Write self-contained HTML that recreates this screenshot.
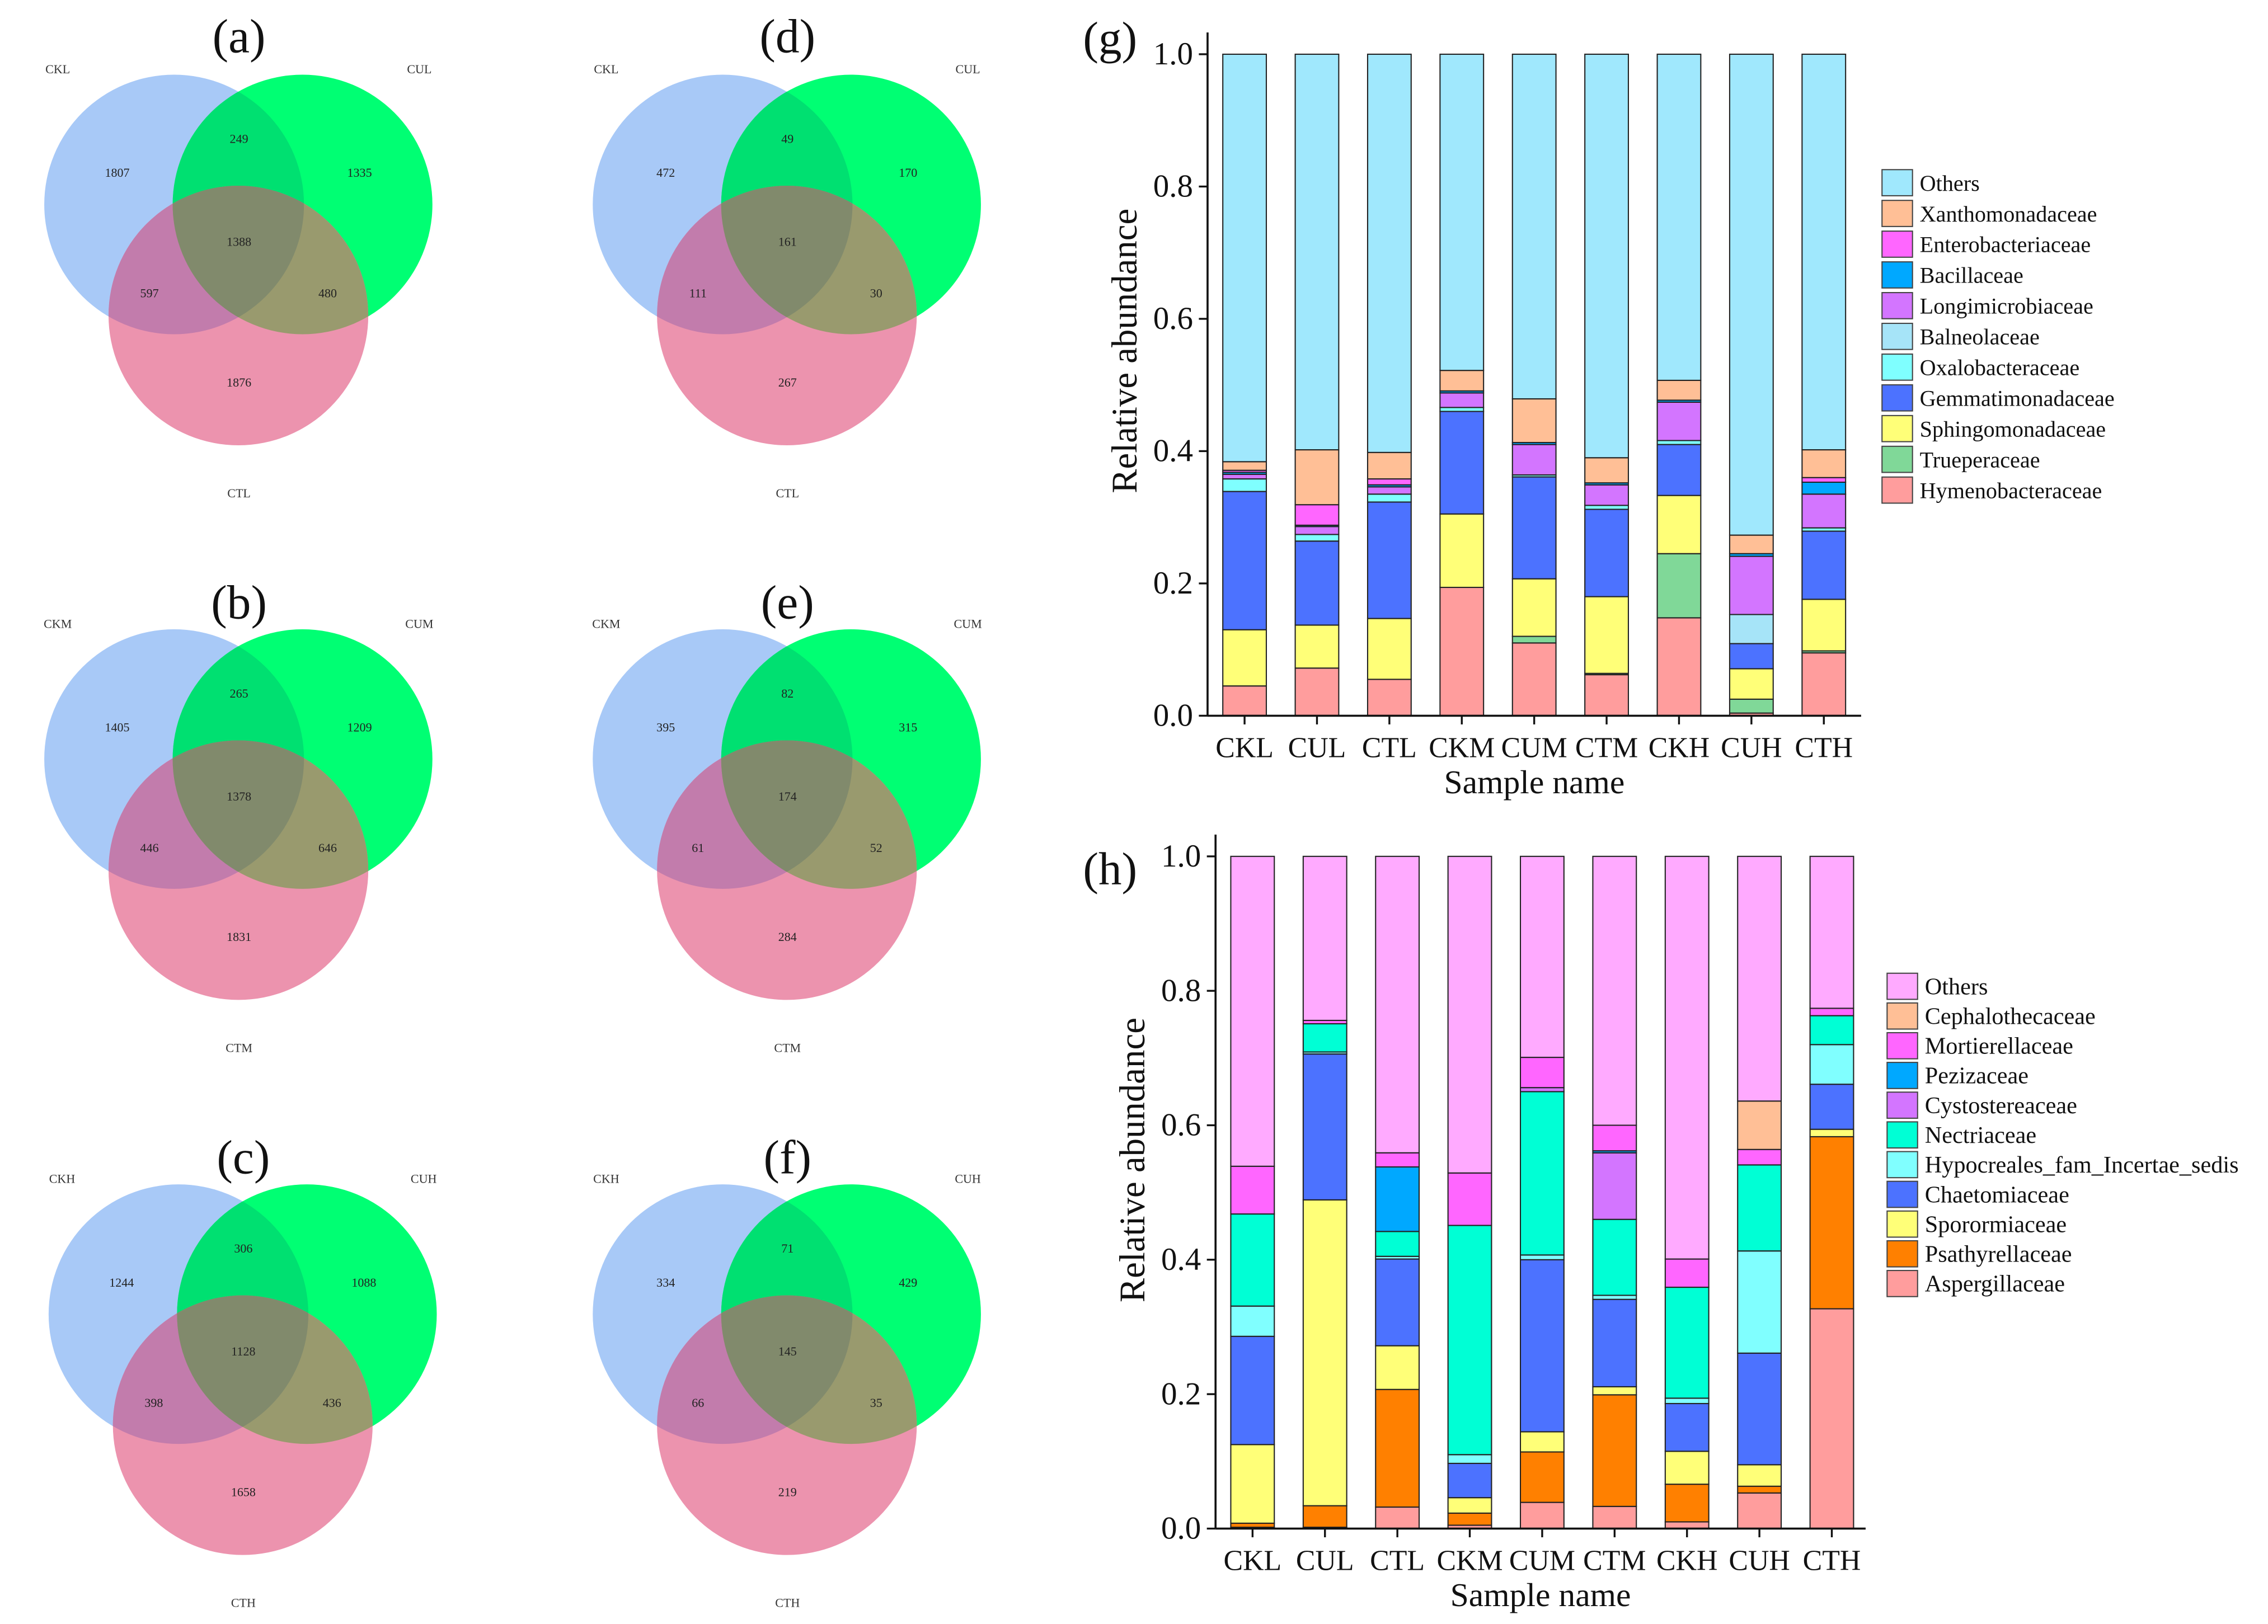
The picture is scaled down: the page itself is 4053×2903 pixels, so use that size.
<!DOCTYPE html>
<html><head><meta charset="utf-8"><style>
html,body{margin:0;padding:0;background:#fff;}
svg{display:block;font-family:"Liberation Serif",serif;}
</style></head><body>
<svg id="fig" width="4053" height="2903" viewBox="0 0 1563 1120" preserveAspectRatio="none" xmlns="http://www.w3.org/2000/svg">
<rect x="0" y="0" width="1563" height="1120" fill="#fff"/>
<defs id="defs"></defs>
<g id="venns"></g>
<g id="chartG"></g>
<g id="chartH"></g>
</svg>
<script>
// ---------- Venn data ----------
const vennTitles = ["(a)","(b)","(c)","(d)","(e)","(f)"];
const vennSets = [["CKL","CUL","CTL"],["CKM","CUM","CTM"],["CKH","CUH","CTH"],["CKL","CUL","CTL"],["CKM","CUM","CTM"],["CKH","CUH","CTH"]];
// order: onlyA, AB, onlyB, ABC, AC, BC, onlyC
const vennCounts = [
 [1807,249,1335,1388,597,480,1876],
 [1405,265,1209,1378,446,646,1831],
 [1244,306,1088,1128,398,436,1658],
 [472,49,170,161,111,30,267],
 [395,82,315,174,61,52,284],
 [334,71,429,145,66,35,219]
];
// ---------- Bar chart (g) data ----------
const samples = ["CKL","CUL","CTL","CKM","CUM","CTM","CKH","CUH","CTH"];
const yTicks = ["0.0","0.2","0.4","0.6","0.8","1.0"];
const gHymeno = [0.045,0.072,0.055,0.194,0.110,0.062,0.148,0.004,0.095];
const gTruep  = [0,0,0,0,0.010,0.002,0.097,0.021,0.003];
const gSphingo= [0.085,0.065,0.092,0.111,0.087,0.116,0.088,0.046,0.078];
const gGemmat = [0.209,0.127,0.176,0.155,0.154,0.132,0.077,0.038,0.103];
const gOxalo  = [0.019,0.010,0.012,0.006,0.003,0.006,0.006,0,0.005];
const gBalneo = [0,0,0,0,0,0,0,0.044,0];
const gLongi  = [0.007,0.012,0.011,0.022,0.046,0.031,0.058,0.088,0.051];
const gBacill = [0.003,0.002,0.003,0.003,0.003,0.003,0.003,0.004,0.018];
const gEntero = [0.003,0.031,0.009,0,0,0,0,0,0.007];
const gXantho = [0.013,0.083,0.040,0.031,0.066,0.038,0.030,0.028,0.042];
const gNames = ["Hymenobacteraceae","Trueperaceae","Sphingomonadaceae","Gemmatimonadaceae","Oxalobacteraceae","Balneolaceae","Longimicrobiaceae","Bacillaceae","Enterobacteriaceae","Xanthomonadaceae","Others"];
// ---------- Bar chart (h) data ----------
const hAsper  = [0.002,0.002,0.032,0.005,0.039,0.033,0.010,0.053,0.327];
const hPsathy = [0.006,0.032,0.175,0.018,0.075,0.166,0.056,0.010,0.256];
const hSporo  = [0.117,0.455,0.065,0.023,0.030,0.012,0.049,0.032,0.011];
const hChaeto = [0.161,0.217,0.129,0.051,0.256,0.130,0.071,0.166,0.067];
const hHypo   = [0.045,0.003,0.004,0.013,0.007,0.006,0.008,0.152,0.059];
const hNectri = [0.137,0.042,0.037,0.341,0.243,0.113,0.165,0.128,0.043];
const hCysto  = [0,0,0,0,0.006,0.099,0,0,0];
const hPezi   = [0,0,0.096,0,0,0.003,0,0,0];
const hMortier= [0.071,0.005,0.021,0.078,0.045,0.038,0.042,0.023,0.011];
const hCephalo= [0,0,0,0,0,0,0,0.072,0];
const hNames = ["Aspergillaceae","Psathyrellaceae","Sporormiaceae","Chaetomiaceae","Hypocreales_fam_Incertae_sedis","Nectriaceae","Cystostereaceae","Pezizaceae","Mortierellaceae","Cephalothecaceae","Others"];

const NS="http://www.w3.org/2000/svg";
function mk(tag, attrs, parent){const e=document.createElementNS(NS,tag);for(const k in attrs)e.setAttribute(k,attrs[k]);if(parent)parent.appendChild(e);return e;}

// ---------- Venns ----------
const defs=document.getElementById('defs');
const venns=document.getElementById('venns');
const colX=[0,378], rowY=[0,382.5,765.3];
const cBlue="#a8c9f7", cGreen="#00ff73", cPink="#ec93ae", cBG="#00e071", cBP="#c27cac", cGP="#999a6e", cT="#818a6c";
vennTitles.forEach((t,i)=>{
  const dx=colX[Math.floor(i/3)]+(i===2?3:0), dy=rowY[i%3];
  const g=mk('g',{transform:`translate(${dx},${dy})`},venns);
  
  
  const B={cx:120,cy:141}, G={cx:208.5,cy:141}, P={cx:164.3,cy:217.6}, r=89.5;
  const cb2=mk('clipPath',{id:'cbb'+i},defs); mk('circle',{cx:B.cx,cy:B.cy,r:r},cb2);
  const cg2=mk('clipPath',{id:'cgg'+i},defs); mk('circle',{cx:G.cx,cy:G.cy,r:r},cg2);
  const c1=mk('circle',{cx:B.cx,cy:B.cy,r:r,fill:cBlue},g);
   
  const c2=mk('circle',{cx:G.cx,cy:G.cy,r:r,fill:cGreen},g);
   
  const c3=mk('circle',{cx:P.cx,cy:P.cy,r:r,fill:cPink},g);
   
  const g1=mk('g',{'clip-path':`url(#cbb${i})`},g); mk('circle',{cx:G.cx,cy:G.cy,r:r,fill:cBG},g1);
  const g2=mk('g',{'clip-path':`url(#cbb${i})`},g); mk('circle',{cx:P.cx,cy:P.cy,r:r,fill:cBP},g2);
  const g3=mk('g',{'clip-path':`url(#cgg${i})`},g); mk('circle',{cx:P.cx,cy:P.cy,r:r,fill:cGP},g3);
  const g4=mk('g',{'clip-path':`url(#cbb${i})`},g); const g5=mk('g',{'clip-path':`url(#cgg${i})`},g4); mk('circle',{cx:P.cx,cy:P.cy,r:r,fill:cT},g5);
  const tt=mk('text',{x:164.7,y:dy===0?36:44,'font-size':33,'text-anchor':'middle',fill:'#111'},g); tt.textContent=t;
   
  const lbl=[[39.8,50.5],[289,50.5],[164.7,343]];
  vennSets[i].forEach((s,k)=>{const e=mk('text',{x:lbl[k][0],y:lbl[k][1],'font-size':8.5,'text-anchor':'middle',fill:'#333'},g);e.textContent=s;
     });
  const pos=[[80.8,119],[164.7,95.6],[247.8,119],[164.7,166.5],[103,202],[225.8,202],[164.7,263.5]];
  vennCounts[i].forEach((v,k)=>{const e=mk('text',{x:pos[k][0],y:pos[k][1]+3,'font-size':8.5,'text-anchor':'middle',fill:'#222'},g);e.textContent=v;
     });
});

// ---------- Bar charts ----------
function barChart(root, cfg){
  const {x0,yTop,yBot,xEnd,series,colors,names,letter,letterY,legTop,legStep,legX,ylabY,legFont} = cfg;
  const yScale=v=>yBot-(yBot-yTop)*v;
  const xScale=i=>x0+25.5+i*49.9;
  const bw=30;
  samples.forEach((s,i)=>{
    const bg=mk('g',{},root);
     
    let cum=0;
    const vals=series.map(a=>a[i]);
    const others=1-vals.reduce((a,b)=>a+b,0);
    vals.concat([others]).forEach((v,k)=>{
      if(v<=0) return;
      const r=mk('rect',{x:xScale(i)-bw/2,y:yScale(cum+v),width:bw,height:yScale(cum)-yScale(cum+v),fill:colors[k],stroke:'#222','stroke-width':0.8},bg);
       
      cum+=v;
    });
    mk('line',{x1:xScale(i),x2:xScale(i),y1:yBot,y2:yBot+6,stroke:'#111','stroke-width':1.3},root);
    const lb=mk('text',{x:xScale(i),y:yBot+28.5,'font-size':20,'text-anchor':'middle',fill:'#111'},root);lb.textContent=s;
     
  });
  const ya=mk('line',{x1:x0,x2:x0,y1:yTop-15,y2:yBot,stroke:'#111','stroke-width':1.4},root);
   
  const xa=mk('line',{x1:x0,x2:xEnd,y1:yBot,y2:yBot,stroke:'#111','stroke-width':1.4},root);
   
  yTicks.forEach(tk=>{
    const v=parseFloat(tk), y=yScale(v);
    mk('line',{x1:x0-6,x2:x0,y1:y,y2:y,stroke:'#111','stroke-width':1.3},root);
    const e=mk('text',{x:x0-10,y:y+7,'font-size':22,'text-anchor':'end',fill:'#111'},root);e.textContent=tk;
     
  });
  const yl=mk('text',{x:0,y:0,'font-size':25,'text-anchor':'middle',fill:'#111',transform:`translate(${x0-49},${ylabY}) rotate(-90)`},root);
  yl.textContent='Relative abundance';
   
  const xl=mk('text',{x:(x0+xEnd)/2,y:yBot+53.5,'font-size':23,'text-anchor':'middle',fill:'#111'},root);
  xl.textContent='Sample name';
   
  const lt=mk('text',{x:765,y:letterY,'font-size':32,'text-anchor':'middle',fill:'#111'},root);lt.textContent=letter;
   
  const lg=mk('g',{},root);
   
  for(let j=0;j<names.length;j++){
    const k=names.length-1-j, y=legTop+j*legStep;
    const ent=mk('g',{},lg);
     
    mk('rect',{x:legX,y:y,width:21,height:18,fill:colors[k],stroke:'#444','stroke-width':0.8},ent);
    const e=mk('text',{x:legX+26,y:y+14.5,'font-size':legFont,fill:'#111'},ent);e.textContent=names[k];
  }
}
barChart(document.getElementById('chartG'),{
  x0:832.2,yTop:37.4,yBot:493.6,xEnd:1282.6,
  series:[gHymeno,gTruep,gSphingo,gGemmat,gOxalo,gBalneo,gLongi,gBacill,gEntero,gXantho],
  colors:["#ff9d9d","#80d898","#ffff78","#4c72ff","#7fffff","#a6e4f8","#d375ff","#00a8ff","#ff66ff","#ffbf96","#a0e8fd"],
  names:gNames,letter:'(g)',letterY:37,legTop:117,legStep:21.2,legX:1297,ylabY:242,legFont:15.5
});
barChart(document.getElementById('chartH'),{
  x0:837.7,yTop:590.6,yBot:1054.2,xEnd:1285.7,
  series:[hAsper,hPsathy,hSporo,hChaeto,hHypo,hNectri,hCysto,hPezi,hMortier,hCephalo],
  colors:["#ff9d9d","#ff8000","#ffff78","#4c72ff","#80ffff","#00ffd5","#d375ff","#00a8ff","#ff66ff","#ffbf96","#ffaaff"],
  names:hNames,letter:'(h)',letterY:610,legTop:671.2,legStep:20.5,legX:1300.5,ylabY:800,legFont:16.3
});
</script>
</body></html>
